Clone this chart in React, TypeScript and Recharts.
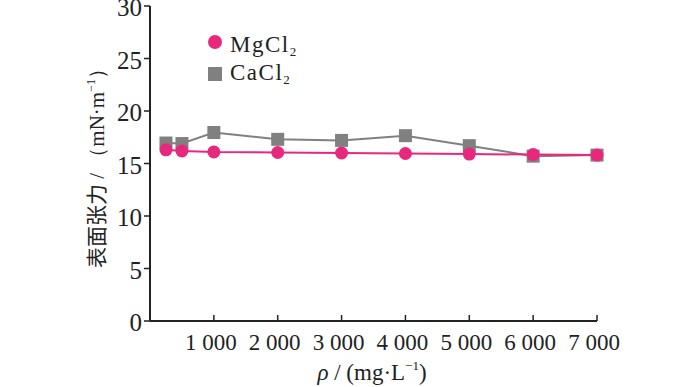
import React from "react";
import { LineChart, Line, XAxis, YAxis } from "recharts";

const concentrations = [250, 500, 1000, 2000, 3000, 4000, 5000, 6000, 7000];
const mgcl2 = [16.3, 16.2, 16.1, 16.05, 16.0, 15.95, 15.9, 15.85, 15.8];
const cacl2 = [16.95, 16.9, 17.95, 17.3, 17.2, 17.65, 16.7, 15.7, 15.8];
const xTicks = [1000, 2000, 3000, 4000, 5000, 6000, 7000];
const yTicks = [0, 5, 10, 15, 20, 25, 30];
const seriesNames = ["MgCl", "CaCl"];

const data = concentrations.map((c, i) => ({ c, mg: mgcl2[i], ca: cacl2[i] }));

const PINK = "#E8287C";
const GRAY = "#808080";
const AXIS = "#222";
const FONT = "'Liberation Serif', 'Times New Roman', serif";
const CJK = "'Noto Sans CJK SC', 'Liberation Serif', serif";

const fmt = (v: number) => {
  const s = String(v);
  return s.length > 3 ? s.slice(0, s.length - 3) + " " + s.slice(-3) : s;
};

const XTick = (props: any) => {
  const { x, y, payload } = props;
  return (
    <g>
      <line x1={x} y1={y} x2={x} y2={y - 6} stroke={AXIS} strokeWidth={1.5} />
      <text x={x - 3} y={y + 29} textAnchor="middle" fontFamily={FONT} fontSize={23} fill="#222">
        {fmt(payload.value)}
      </text>
    </g>
  );
};

const YTick = (props: any) => {
  const { x, y, payload } = props;
  return (
    <text x={x} y={y + 10} textAnchor="end" fontFamily={FONT} fontSize={25} fill="#222">
      {payload.value}
    </text>
  );
};

const SquareDot = (props: any) => {
  const { cx, cy, index } = props;
  if (cx == null || cy == null) return <g key={index} />;
  return <rect key={index} x={cx - 6.5} y={cy - 6.5} width={13} height={13} fill={GRAY} />;
};

const CircleDot = (props: any) => {
  const { cx, cy, index } = props;
  if (cx == null || cy == null) return <g key={index} />;
  return <circle key={index} cx={cx} cy={cy} r={6.5} fill={PINK} />;
};

const LegendSvg = () => (
  <g fontFamily={FONT} fontSize={23} fill="#222">
    <circle cx={215} cy={42} r={7} fill={PINK} />
    <text x={230} y={52} letterSpacing={1.5}>
      {seriesNames[0]}
      <tspan fontSize={13} dy={4}>2</tspan>
    </text>
    <rect x={208} y={67} width={14} height={14} fill={GRAY} />
    <text x={230} y={80} letterSpacing={1.5}>
      {seriesNames[1]}
      <tspan fontSize={13} dy={4}>2</tspan>
    </text>
  </g>
);

const YLabel = () => (
  <text
    transform="translate(104,163) rotate(-90)"
    textAnchor="middle"
    fontSize={21}
    fill="#222"
  >
    <tspan fontFamily={CJK}>表面张力</tspan>
    <tspan fontFamily={FONT}> / （mN·m</tspan>
    <tspan fontFamily={FONT} fontSize={12} dy={-9}>−1</tspan>
    <tspan fontFamily={FONT} dy={9}>）</tspan>
  </text>
);

export default function App() {
  return (
    <div style={{ position: "absolute", left: 0, top: 0, width: 700, height: 387, background: "#fff" }}>
      <LineChart
        width={700}
        height={387}
        data={data}
        margin={{ top: 6, right: 103, bottom: 36, left: 0 }}
      >
        <XAxis
          dataKey="c"
          type="number"
          domain={[0, 7000]}
          ticks={xTicks}
          tick={<XTick />}
          tickSize={0}
          tickMargin={0}
          tickLine={false}
          axisLine={{ stroke: AXIS, strokeWidth: 2 }}
          interval={0}
          height={30}
        />
        <YAxis
          type="number"
          domain={[0, 30]}
          ticks={yTicks}
          width={150}
          tickSize={6}
          tickMargin={2}
          tickLine={{ stroke: AXIS, strokeWidth: 1.5 }}
          axisLine={{ stroke: AXIS, strokeWidth: 2 }}
          tick={<YTick />}
          interval={0}
        />
        <Line
          dataKey="ca"
          stroke={GRAY}
          strokeWidth={2}
          dot={<SquareDot />}
          isAnimationActive={false}
        />
        <Line
          dataKey="mg"
          stroke={PINK}
          strokeWidth={2}
          dot={<CircleDot />}
          isAnimationActive={false}
        />
        <LegendSvg />
        <YLabel />
        <text x={372} y={380} textAnchor="middle" fontFamily={FONT} fontSize={23} fill="#222">
          <tspan fontStyle="italic">ρ</tspan>
          <tspan> / (mg·L</tspan>
          <tspan fontSize={13} dy={-10}>−1</tspan>
          <tspan dy={10}>)</tspan>
        </text>
      </LineChart>
    </div>
  );
}
